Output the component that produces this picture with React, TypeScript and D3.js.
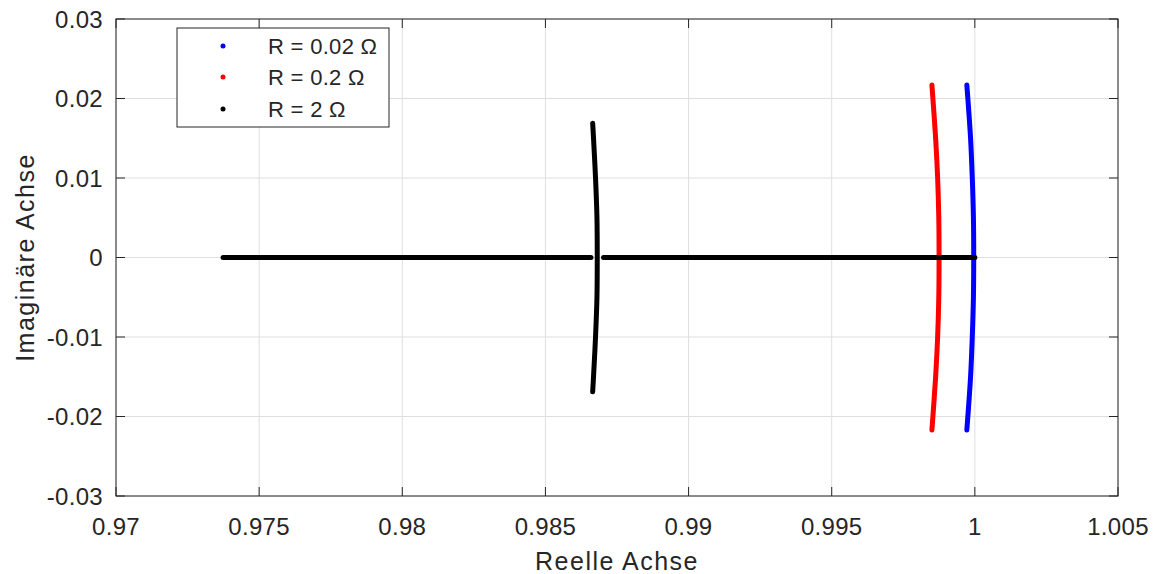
import React from "react";
import * as d3 from "d3";

// ---- data ----
const xTicks = [0.97, 0.975, 0.98, 0.985, 0.99, 0.995, 1.0, 1.005];
const xTickLabels = ["0.97", "0.975", "0.98", "0.985", "0.99", "0.995", "1", "1.005"];
const yTicks = [-0.03, -0.02, -0.01, 0, 0.01, 0.02, 0.03];
const yTickLabels = ["-0.03", "-0.02", "-0.01", "0", "0.01", "0.02", "0.03"];

const seriesNames = ["R = 0.02 Ω", "R = 0.2 Ω", "R = 2 Ω"];
const seriesColors = ["#0000ff", "#ff0000", "#000000"];

// R = 0.02 Ω
const blueIm = [0.0217, 0.015, 0.01, 0.005, 0, -0.005, -0.01, -0.015, -0.0217];
const blueRe = [0.99972, 0.99985, 0.99991, 0.99995, 0.99996, 0.99995, 0.99991, 0.99985, 0.99972];
// R = 0.2 Ω
const redIm = [0.0217, 0.015, 0.01, 0.005, 0, -0.005, -0.01, -0.015, -0.0217];
const redRe = [0.9985, 0.99863, 0.9987, 0.99874, 0.99875, 0.99874, 0.9987, 0.99863, 0.9985];
// R = 2 Ω – complex branch
const blackIm = [0.0169, 0.015, 0.01, 0.005, 0, -0.005, -0.01, -0.015, -0.0169];
const blackRe = [0.98665, 0.98668, 0.98675, 0.9868, 0.98681, 0.9868, 0.98675, 0.98668, 0.98665];
// R = 2 Ω – real-axis branches (start, end)
const blackRealLeft = [0.97374, 0.98659];
const blackRealRight = [0.98703, 1.0];

const xLabel = "Reelle Achse";
const yLabel = "Imaginäre Achse";

export default function App() {
  const W = 1155, H = 574;
  const L = 116, R = 1118, T = 19, B = 496;
  const x = d3.scaleLinear().domain([0.97, 1.005]).range([L, R]);
  const y = d3.scaleLinear().domain([-0.03, 0.03]).range([B, T]);
  const font = "'Liberation Sans', Arial, Helvetica, sans-serif";
  const textCol = "#262626";
  const gridCol = "#dfdfdf";
  const tickLen = 9;

  const line = d3
    .line<[number, number]>()
    .x((d) => x(d[0]))
    .y((d) => y(d[1]))
    .curve(d3.curveCatmullRom);

  const curves: { re: number[]; im: number[]; color: string }[] = [
    { re: blueRe, im: blueIm, color: seriesColors[0] },
    { re: redRe, im: redIm, color: seriesColors[1] },
    { re: blackRe, im: blackIm, color: seriesColors[2] },
  ];

  const realSegs = [blackRealLeft, blackRealRight];

  const legX = 177, legY = 28, legW = 212, legH = 99;
  const rowY = [46, 77, 109];

  return (
    <svg
      width={W}
      height={H}
      style={{ position: "absolute", left: 0, top: 0, background: "#fff" }}
      fontFamily={font}
    >
      <rect x={0} y={0} width={W} height={H} fill="#fff" />
      {/* grid */}
      {xTicks.map((t, i) => (
        <line key={"gx" + i} x1={x(t)} x2={x(t)} y1={T} y2={B} stroke={gridCol} strokeWidth={1} />
      ))}
      {yTicks.map((t, i) => (
        <line key={"gy" + i} x1={L} x2={R} y1={y(t)} y2={y(t)} stroke={gridCol} strokeWidth={1} />
      ))}

      {/* data */}
      {curves.map((c, i) => (
        <path
          key={"c" + i}
          d={line(c.re.map((r, j) => [r, c.im[j]] as [number, number])) || ""}
          fill="none"
          stroke={c.color}
          strokeWidth={5}
          strokeLinecap="round"
          strokeLinejoin="round"
        />
      ))}
      {realSegs.map((s, i) => (
        <line
          key={"rs" + i}
          x1={x(s[0])}
          x2={x(s[1])}
          y1={y(0)}
          y2={y(0)}
          stroke={seriesColors[2]}
          strokeWidth={5}
          strokeLinecap="round"
        />
      ))}

      {/* axes box */}
      <rect x={L} y={T} width={R - L} height={B - T} fill="none" stroke={textCol} strokeWidth={1} />
      {xTicks.map((t, i) => (
        <g key={"xt" + i}>
          <line x1={x(t)} x2={x(t)} y1={B} y2={B - tickLen} stroke={textCol} />
          <line x1={x(t)} x2={x(t)} y1={T} y2={T + tickLen} stroke={textCol} />
          <text x={x(t)} y={535} textAnchor="middle" fontSize={24} letterSpacing={0.3} fill={textCol}>
            {xTickLabels[i]}
          </text>
        </g>
      ))}
      {yTicks.map((t, i) => (
        <g key={"yt" + i}>
          <line x1={L} x2={L + tickLen} y1={y(t)} y2={y(t)} stroke={textCol} />
          <line x1={R} x2={R - tickLen} y1={y(t)} y2={y(t)} stroke={textCol} />
          <text x={103} y={y(t)} dy="0.36em" textAnchor="end" fontSize={24} letterSpacing={0.3} fill={textCol}>
            {yTickLabels[i]}
          </text>
        </g>
      ))}

      {/* axis titles */}
      <text x={(L + R) / 2} y={570} textAnchor="middle" fontSize={25} letterSpacing={1.5} fill={textCol}>
        {xLabel}
      </text>
      <text
        transform={`translate(34, ${(T + B) / 2}) rotate(-90)`}
        textAnchor="middle"
        fontSize={25}
        letterSpacing={1.5}
        fill={textCol}
      >
        {yLabel}
      </text>

      {/* legend */}
      <rect x={legX} y={legY} width={legW} height={legH} fill="#fff" stroke={textCol} strokeWidth={1} />
      {seriesNames.map((n, i) => (
        <g key={"lg" + i}>
          <circle cx={223} cy={rowY[i]} r={2.5} fill={seriesColors[i]} />
          <text x={268} y={rowY[i]} dy="0.36em" fontSize={22} letterSpacing={0.3} fill={textCol}>
            {n}
          </text>
        </g>
      ))}
    </svg>
  );
}
